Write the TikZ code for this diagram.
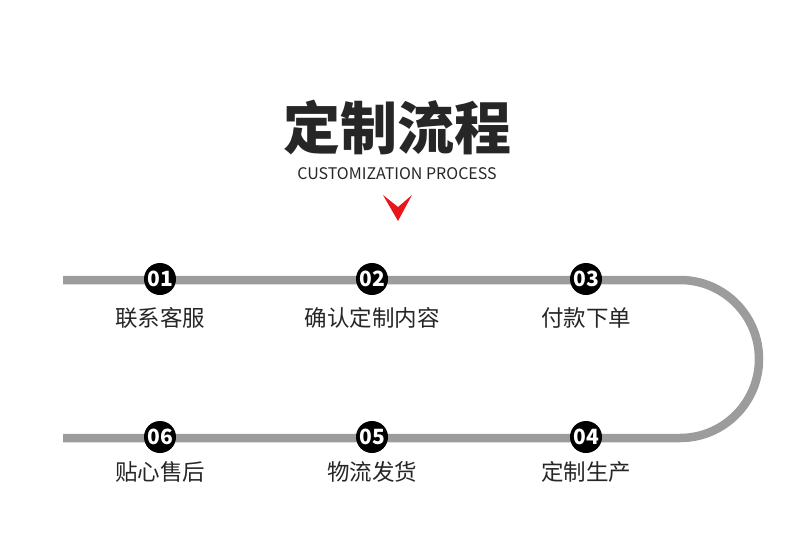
\documentclass[tikz,border=0pt]{standalone}
\usepackage{fontspec}
\setmainfont{Noto Sans CJK SC}
\newfontfamily\cjk{Noto Sans CJK SC}
\usetikzlibrary{positioning}
\definecolor{trackgray}{HTML}{9C9C9C}
\definecolor{titleblack}{HTML}{262626}
\definecolor{arrowred}{HTML}{E8161B}

\begin{document}
\begin{tikzpicture}[x=1pt, y=-1pt,
    stepdot/.style={circle, fill=black, minimum size=32pt, inner sep=0pt,
      text=white, font=\cjk\bfseries\fontsize{21}{21}\selectfont},
    steplabel/.style={font=\cjk\fontsize{22.5}{22.5}\selectfont, text=titleblack, inner sep=0pt}]
    \useasboundingbox (0,0) rectangle (790,533);

    % Title
    \node[font=\cjk\bfseries\fontsize{57}{57}\selectfont, text=titleblack] (title) at (397,127) {定制流程};
    \node[font=\cjk\fontsize{16}{16}\selectfont, text=titleblack] (subtitle) at (397,174) {CUSTOMIZATION PROCESS};
    \fill[arrowred] (383,195) -- (398,207) -- (412,195) -- (398,221) -- cycle;

    % Track
    \coordinate (topstart) at (63,280);
    \coordinate (topend) at (680,280);
    \coordinate (botstart) at (63,438);
    \draw[trackgray, line width=8.5pt] (topstart) -- (topend)
      arc[start angle=-90, end angle=90, radius=79] -- (botstart);

    % Steps
    \node[stepdot] (s1) at (160,279) {01};
    \node[stepdot] (s2) at (372,279) {02};
    \node[stepdot] (s3) at (586,279) {03};
    \node[stepdot] (s4) at (586,437) {04};
    \node[stepdot] (s5) at (372,437) {05};
    \node[stepdot] (s6) at (160,437) {06};

    % Labels
    \node[steplabel, below=12pt of s1] (l1) {联系客服};
    \node[steplabel, below=12pt of s2] (l2) {确认定制内容};
    \node[steplabel, below=12pt of s3] (l3) {付款下单};
    \node[steplabel, below=8pt of s4] (l4) {定制生产};
    \node[steplabel, below=8pt of s5] (l5) {物流发货};
    \node[steplabel, below=8pt of s6] (l6) {贴心售后};
  \end{tikzpicture}
\end{document}
